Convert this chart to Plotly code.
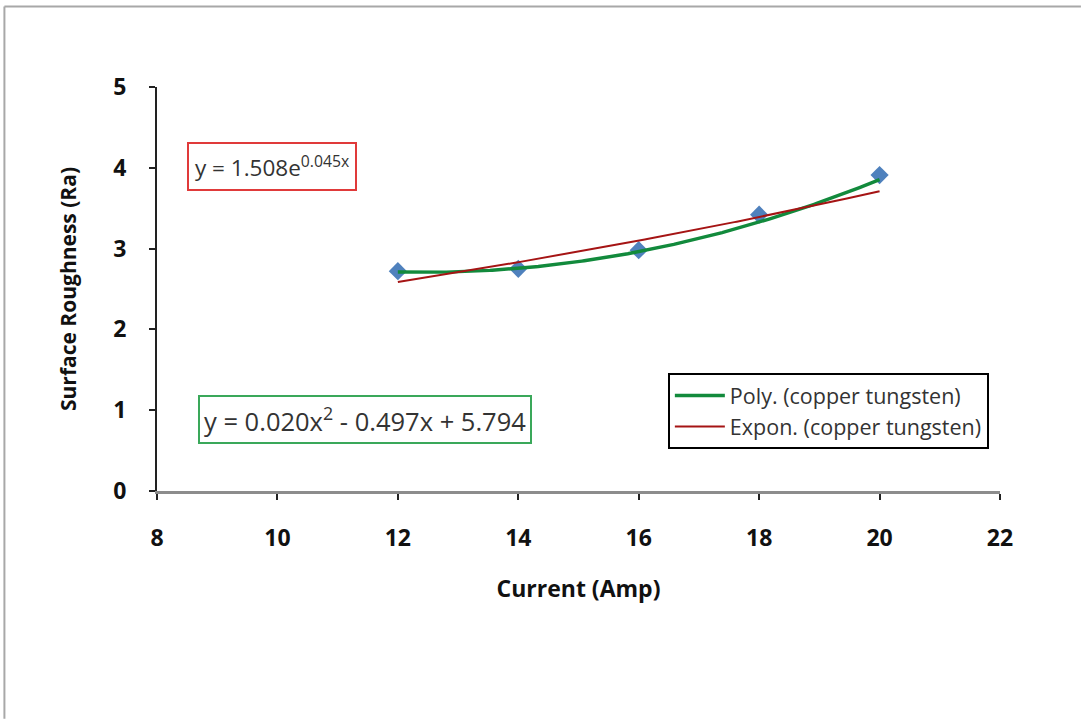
import numpy as np
import plotly.graph_objects as go

# Measured surface roughness for copper tungsten electrode
current = [12, 14, 16, 18, 20]
roughness = [2.72, 2.75, 2.98, 3.42, 3.91]

# Trendline coefficients as reported on the chart
poly_coef = [0.020, -0.497, 5.794]   # a*x^2 + b*x + c
exp_coef = [1.508, 0.045]            # A * exp(k*x)

x_ticks = [8, 10, 12, 14, 16, 18, 20, 22]
y_ticks = [0, 1, 2, 3, 4, 5]

xs = np.linspace(min(current), max(current), 200)
poly_y = np.polyval(poly_coef, xs)
exp_y = exp_coef[0] * np.exp(exp_coef[1] * xs)

FONT = "Open Sans"
TICKFONT = dict(family=FONT, size=23, color="#111", weight="bold")

fig = go.Figure()

fig.add_trace(go.Scatter(
    x=current, y=roughness, mode="markers",
    marker=dict(symbol="diamond", size=14, color="#4F81BD"),
    showlegend=False, name="copper tungsten",
))
fig.add_trace(go.Scatter(
    x=xs, y=poly_y, mode="lines",
    line=dict(color="#128a3c", width=3.4),
    name="Poly. (copper tungsten)",
))
fig.add_trace(go.Scatter(
    x=xs, y=exp_y, mode="lines",
    line=dict(color="#a51414", width=2),
    name="Expon. (copper tungsten)",
))

fig.update_layout(
    width=1081, height=719,
    margin=dict(l=157, r=81, t=87, b=228),
    paper_bgcolor="white", plot_bgcolor="white",
    font=dict(family=FONT, color="#222"),
    legend=dict(
        x=0.606, y=0.292, xanchor="left", yanchor="top",
        bgcolor="white", bordercolor="black", borderwidth=2,
        font=dict(family=FONT, size=21.5, color="#333"),
        itemwidth=50, tracegroupgap=4,
    ),
    xaxis=dict(
        range=[8, 22], tickvals=x_ticks, ticktext=[str(v) for v in x_ticks],
        showgrid=False, zeroline=False,
        showline=True, linecolor="#8c8c8c", linewidth=3,
        ticks="outside", ticklen=6, tickwidth=2, tickcolor="#222",
        ticklabelstandoff=18,
        tickfont=TICKFONT,
        title=dict(text="Current (Amp)", standoff=30,
                   font=dict(family=FONT, size=23, color="#111", weight="bold")),
    ),
    yaxis=dict(
        range=[0, 5], tickvals=y_ticks, ticktext=[str(v) for v in y_ticks],
        showgrid=False, zeroline=False,
        showline=True, linecolor="#222", linewidth=2,
        ticks="outside", ticklen=6, tickwidth=2, tickcolor="#222",
        ticklabelstandoff=18,
        tickfont=TICKFONT,
        title=dict(text="Surface Roughness (Ra)", standoff=31,
                   font=dict(family=FONT, size=21, color="#111", weight="bold")),
    ),
)

# Trendline equation labels
fig.add_annotation(
    xref="paper", yref="paper", x=0.136, y=0.802,
    xanchor="center", yanchor="middle",
    text="y = 1.508e<sup>0.045x</sup>", showarrow=False,
    font=dict(family=FONT, size=22.5, color="#333"),
    bordercolor="#e03a3a", borderwidth=2, borderpad=6, bgcolor="white",
)
fig.add_annotation(
    xref="paper", yref="paper", x=0.247, y=0.178,
    xanchor="center", yanchor="middle",
    text="y = 0.020x<sup>2</sup> - 0.497x + 5.794", showarrow=False,
    font=dict(family=FONT, size=25.5, color="#333"),
    bordercolor="#3aa85a", borderwidth=2, borderpad=4, bgcolor="white",
)

# Outer frame edges (top and left)
fig.add_shape(type="line", xref="paper", yref="paper",
              x0=-0.181, x1=1.096, y0=1.199, y1=1.199,
              line=dict(color="#a8a8a8", width=2))
fig.add_shape(type="line", xref="paper", yref="paper",
              x0=-0.181, x1=-0.181, y0=1.199, y1=-0.564,
              line=dict(color="#a8a8a8", width=2))

fig.write_html("out.html")
